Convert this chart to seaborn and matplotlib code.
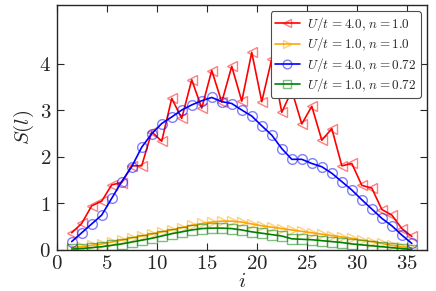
"""Structure factor S(l) vs site index for the Hubbard chain."""

import matplotlib
matplotlib.use("Agg")
import matplotlib.pyplot as plt
import seaborn as sns
import pandas as pd
from matplotlib.ticker import FuncFormatter

sns.set_style("ticks")
plt.rcParams['mathtext.fontset'] = 'cm'
plt.rcParams['font.family'] = ['DejaVu Serif']

# site index
i_vals = [1.5, 2.5, 3.5, 4.5, 5.5, 6.5, 7.5, 8.5, 9.5, 10.5, 11.5, 12.5,
          13.5, 14.5, 15.5, 16.5, 17.5, 18.5, 19.5, 20.5, 21.5, 22.5, 23.5,
          24.5, 25.5, 26.5, 27.5, 28.5, 29.5, 30.5, 31.5, 32.5, 33.5, 34.5, 35.5]

# U/t = 4.0, n = 1.0
s_u4_n1 = [0.37, 0.57, 0.95, 1.05, 1.40, 1.45, 1.81, 1.81, 2.54, 2.34, 3.26,
           2.83, 3.66, 3.05, 3.86, 3.18, 3.95, 3.20, 4.25, 3.19, 4.11, 2.96,
           3.43, 2.71, 3.09, 2.36, 2.61, 1.81, 1.86, 1.39, 1.33, 0.87, 0.75,
           0.46, 0.29]
# U/t = 1.0, n = 1.0
s_u1_n1 = [0.05, 0.07, 0.10, 0.13, 0.17, 0.21, 0.26, 0.30, 0.34, 0.39, 0.43,
           0.48, 0.53, 0.57, 0.60, 0.62, 0.62, 0.60, 0.56, 0.52, 0.49, 0.46,
           0.43, 0.40, 0.37, 0.34, 0.31, 0.28, 0.25, 0.21, 0.18, 0.14, 0.10,
           0.07, 0.04]
# U/t = 4.0, n = 0.72
s_u4_n072 = [0.18, 0.37, 0.56, 0.75, 1.11, 1.47, 1.79, 2.21, 2.50, 2.72, 2.86,
             3.01, 3.12, 3.21, 3.28, 3.19, 3.15, 3.01, 2.88, 2.67, 2.47, 2.18,
             1.95, 1.95, 1.86, 1.79, 1.65, 1.47, 1.29, 1.08, 0.88, 0.68, 0.52,
             0.32, 0.14]
# U/t = 1.0, n = 0.72
s_u1_n072 = [0.02, 0.03, 0.05, 0.07, 0.10, 0.13, 0.17, 0.21, 0.25, 0.30, 0.35,
             0.39, 0.43, 0.46, 0.47, 0.47, 0.46, 0.43, 0.39, 0.36, 0.33, 0.30,
             0.24, 0.23, 0.22, 0.20, 0.18, 0.16, 0.13, 0.11, 0.09, 0.07, 0.05,
             0.03, 0.01]

labels = [r'$U/t\,{=}4.0,\,n=1.0$', r'$U/t\,{=}1.0,\,n=1.0$',
          r'$U/t\,{=}4.0,\,n=0.72$', r'$U/t\,{=}1.0,\,n=0.72$']
series = [s_u4_n1, s_u1_n1, s_u4_n072, s_u1_n072]
colors = ['red', 'orange', 'blue', 'green']
markers = ['<', '>', 'o', 's']

fig, ax = plt.subplots(figsize=(4.36, 2.91), dpi=100)
fig.subplots_adjust(left=0.130, right=0.979, bottom=0.141, top=0.983)

for vals, lab, c, m in zip(series, labels, colors, markers):
    df = pd.DataFrame({'i': i_vals, 'S': vals})
    sns.lineplot(data=df, x='i', y='S', ax=ax, color=c, marker=m, label=lab,
                 linewidth=1.2, markersize=7, mfc='none',
                 mec=matplotlib.colors.to_rgba(c, 0.5), mew=1.0)

ax.set_xlim(0, 37)
ax.set_ylim(0, 5.27)
ax.set_xticks([0, 5, 10, 15, 20, 25, 30, 35])
ax.set_yticks([0, 1, 2, 3, 4])
fmt = FuncFormatter(lambda v, p: f'${v:g}$')
ax.xaxis.set_major_formatter(fmt)
ax.yaxis.set_major_formatter(fmt)
ax.tick_params(direction='in', top=True, right=True, length=5, width=0.8,
               labelsize=15)
ax.tick_params(axis='x', pad=3)
ax.tick_params(axis='y', pad=4)
for sp in ax.spines.values():
    sp.set_linewidth(1.0)

ax.set_xlabel('$i$', fontsize=15, labelpad=-1)
ax.set_ylabel('$S(l)$', fontsize=15, labelpad=2)

leg = ax.legend(loc='upper right', fontsize=9.5, fancybox=True,
                edgecolor='0.3', framealpha=1.0, borderaxespad=0.45,
                handlelength=1.9, labelspacing=0.18, borderpad=0.3,
                handletextpad=0.6, markerscale=0.9)
leg.get_frame().set_linewidth(0.8)

plt.savefig('out.png', dpi=100)
